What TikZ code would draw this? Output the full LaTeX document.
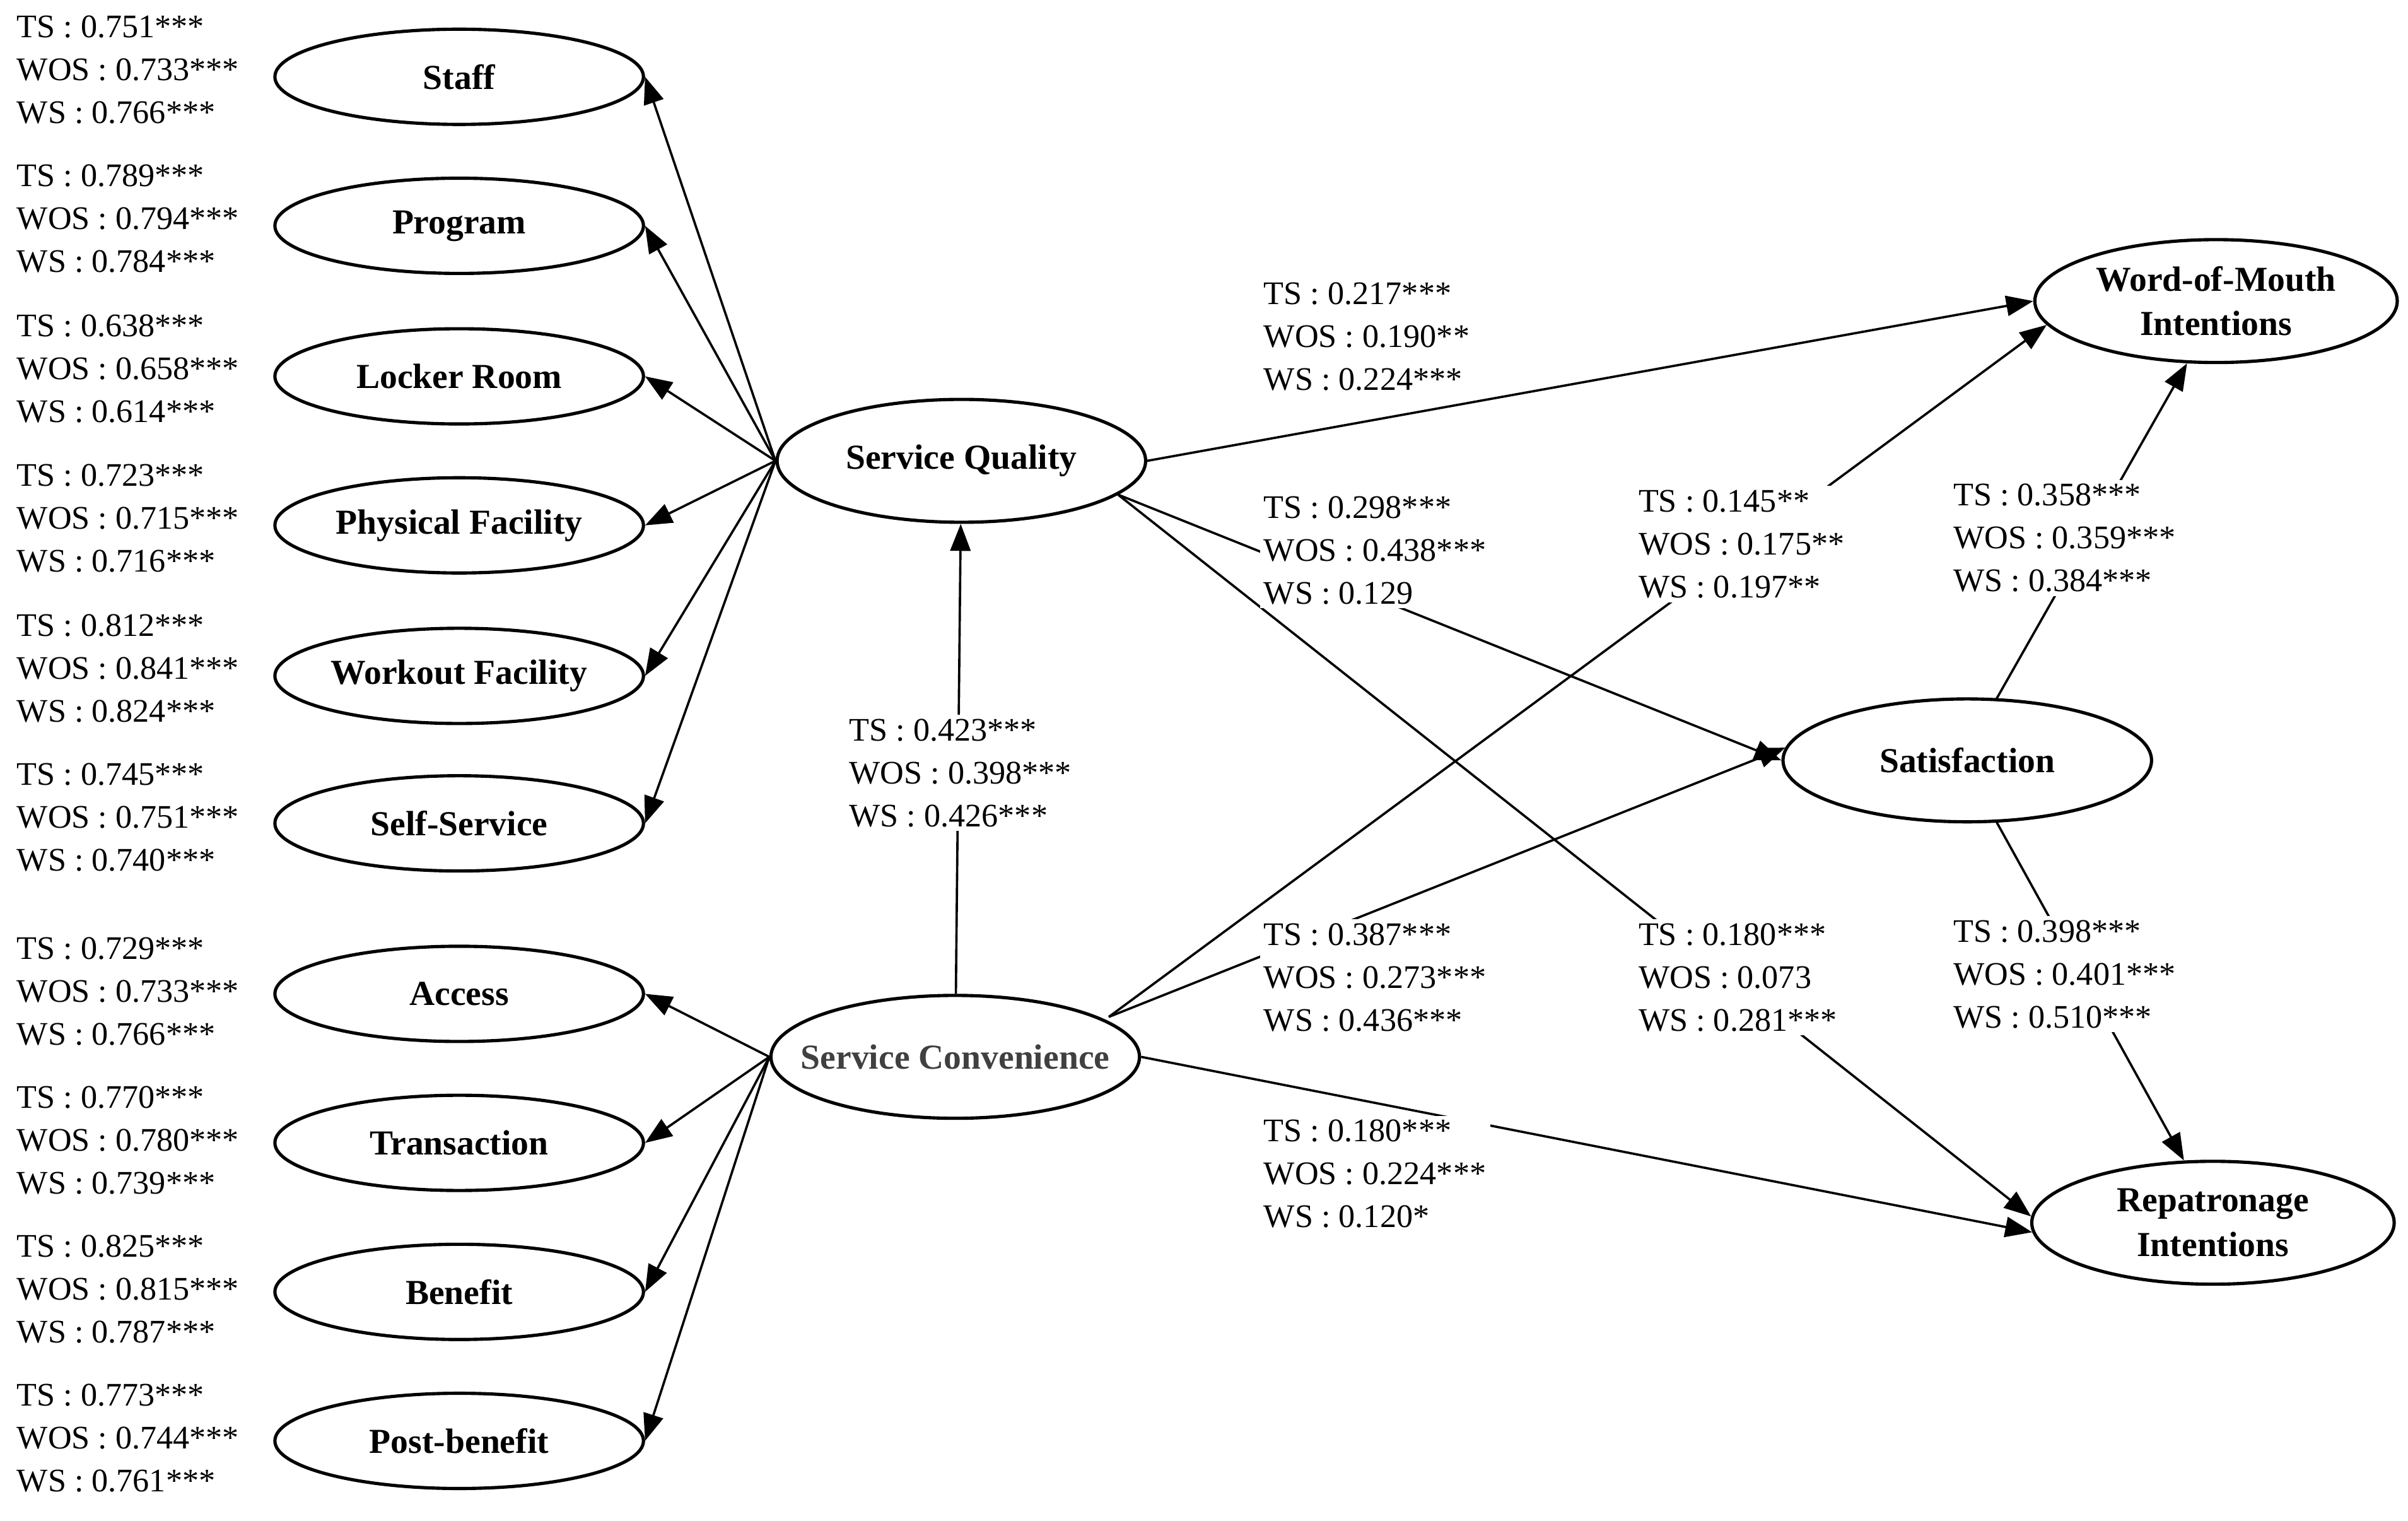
\documentclass[tikz,border=0pt]{standalone}
\usepackage{fontspec}
\setmainfont{Liberation Serif}
\usetikzlibrary{shapes.geometric,arrows.meta}
\begin{document}
\begin{tikzpicture}[x=0.02cm,y=-0.02cm,
  el/.style={ellipse,draw,line width=1.2pt,minimum width=240*0.02cm,minimum height=62*0.02cm,inner sep=0pt},
  big/.style={el,minimum height=80*0.02cm},
  txt/.style={font=\fontsize{13}{16.5}\selectfont\bfseries,align=center,inner sep=0pt},
  lab/.style={anchor=north west,align=left,fill=white,inner sep=1.5pt,font=\fontsize{12.2}{15.9}\selectfont},
  arr/.style={line width=0.85pt,-{Triangle[length=10pt,width=7.5pt]}}]
\useasboundingbox (0,0) rectangle (1568,990);
% left constructs
\foreach \n/\y/\t in {staff/50/Staff,prog/147/Program,lock/245/Locker Room,phys/342/Physical Facility,work/440/Workout Facility,self/536/Self-Service,acc/647/Access,trans/744/Transaction,ben/841/Benefit,post/938/Post-benefit}{
 \node[el] (\n) at (299,\y) {};
 \node[txt] (\n t) at (299,\y) {\t};
}
% main constructs
\node[big] (sq) at (626,300) {}; \node[txt] (sqt) at (626,300) {Service Quality};
\node[big] (sc) at (622,688) {}; \node[txt,text=black!75] (sct) at (622,688) {Service Convenience};
\node[big] (sat) at (1281,495) {}; \node[txt] (satt) at (1281,495) {Satisfaction};
\node[big,minimum width=236*0.02cm] (wom) at (1443,196) {}; \node[txt] (womt) at (1443,196) {Word-of-Mouth\\Intentions};
\node[big,minimum width=236*0.02cm] (rep) at (1441,796) {}; \node[txt] (rept) at (1441,796) {Repatronage\\Intentions};
\coordinate (c1) at (722,662);
\coordinate (q1) at (728,322);
\coordinate (s1) at (1300,455);
\coordinate (s2) at (1300,535);
% arrows
\foreach \t in {staff,prog,lock,phys,work,self} \draw[arr] (sq.west) -- (\t.east);
\foreach \t in {acc,trans,ben,post} \draw[arr] (sc.west) -- (\t.east);
\draw[arr] (sc) -- (sq);
\draw[arr] (sq.east) -- (wom.west);
\draw[arr] (q1) -- (sat.west);
\draw[arr] (q1) -- (rep.178);
\draw[arr] (c1) -- (wom.188);
\draw[arr] (c1) -- (sat.176);
\draw[arr] (sc.east) -- (rep.183);
\draw[arr] (s1) -- (wom.-115);
\draw[arr] (s2) -- (rep.115);
% left labels
\foreach \y/\a/\b/\c in {19/0.751***/0.733***/0.766***,
 116/0.789***/0.794***/0.784***,
 214/0.638***/0.658***/0.614***,
 311/0.723***/0.715***/0.716***,
 409/0.812***/0.841***/0.824***,
 506/0.745***/0.751***/0.740***,
 619/0.729***/0.733***/0.766***,
 716/0.770***/0.780***/0.739***,
 813/0.825***/0.815***/0.787***,
 910/0.773***/0.744***/0.761***}
 \node[lab] at (8,\y-12) {TS : \a\\WOS : \b\\WS : \c};
% path labels
\node[lab] (l1) at (550,465) {TS : 0.423***\\WOS : 0.398***\\WS : 0.426***};
\node[lab] (l2) at (820,181) {TS : 0.217***\\WOS : 0.190**\\WS : 0.224***};
\node[lab] (l3) at (820,320) {TS : 0.298***\\WOS : 0.438***\\WS : 0.129};
\node[lab] (l4) at (1064,316) {TS : 0.145**\\WOS : 0.175**\\WS : 0.197**};
\node[lab] (l5) at (1269,312) {TS : 0.358***\\WOS : 0.359***\\WS : 0.384***};
\node[lab] (l6) at (820,598) {TS : 0.387***\\WOS : 0.273***\\WS : 0.436***};
\node[lab] (l7) at (1064,598) {TS : 0.180***\\WOS : 0.073\\WS : 0.281***};
\node[lab] (l8) at (1269,596) {TS : 0.398***\\WOS : 0.401***\\WS : 0.510***};
\node[lab] (l9) at (820,726) {TS : 0.180***\\WOS : 0.224***\\WS : 0.120*};
\end{tikzpicture}
\end{document}
